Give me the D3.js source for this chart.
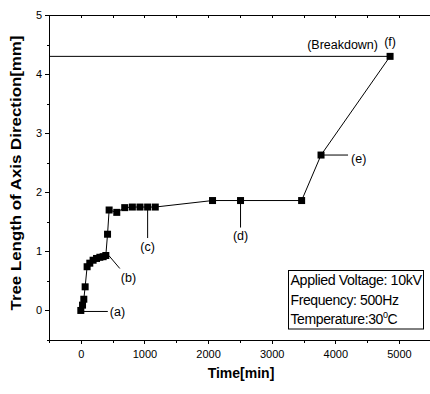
<!DOCTYPE html>
<html>
<head>
<meta charset="utf-8">
<script src="https://cdn.jsdelivr.net/npm/d3@7"></script>
<style>
  body { margin: 0; background: #fff; }
  svg { display: block; font-family: "Liberation Sans", Arial, sans-serif; }
  .axis path, .axis line { stroke: #000; stroke-width: 1; shape-rendering: crispEdges; }
  .axis text { fill: #000; font-size: 11px; font-family: "Liberation Sans", Arial, sans-serif; }
</style>
</head>
<body>
<div id="chart"></div>
<script>
// time [min] vs tree length [mm]
const times  = [0, 27, 47, 68, 99, 141, 193, 247, 299, 351, 393, 420, 445, 565, 690, 810, 930, 1050, 1170, 2070, 2510, 3470, 3775, 4860];
const values = [0, 0.09, 0.19, 0.40, 0.74, 0.80, 0.85, 0.88, 0.90, 0.91, 0.93, 1.29, 1.70, 1.66, 1.74, 1.75, 1.75, 1.75, 1.75, 1.86, 1.86, 1.86, 2.63, 4.30];
const xTicks = [0, 1000, 2000, 3000, 4000, 5000];
const yTicks = [0, 1, 2, 3, 4, 5];
const xMinor = [-500, 500, 1500, 2500, 3500, 4500, 5500];
const yMinor = [-0.5, 0.5, 1.5, 2.5, 3.5, 4.5];
const stageLabels = ['(a)', '(b)', '(c)', '(d)', '(e)', '(f)'];
const stageIndex  = [0, 10, 17, 20, 22, 23];   // which point each label marks
const breakdownLevel = 4.30;
const legendLines = ['Applied Voltage: 10kV', 'Frequency: 500Hz', 'Temperature:30'];

const totalW = 430, totalH = 394;
const svg = d3.select('#chart').append('svg')
  .attr('width', totalW)
  .attr('height', totalH);

const x = d3.scaleLinear().domain([-500, 5500]).range([49, 430.8]);
const y = d3.scaleLinear().domain([-0.5, 5]).range([340, 15]);
const fmt = d3.format('d');

const data = times.map((t, i) => ({t, v: values[i]}));

// axes
function addAxis(gen, tx, ty) {
  return svg.append('g')
    .classed('axis', true)
    .attr('transform', `translate(${tx} ${ty})`)
    .call(gen);
}
addAxis(d3.axisBottom(x).tickValues(xTicks).tickFormat(fmt).tickSize(4).tickSizeOuter(0).tickPadding(6), 0, 340)
  .selectAll('text').attr('dy', '0.71em');
addAxis(d3.axisBottom(x).tickValues(xMinor).tickSize(2.5).tickFormat(''), 0, 340)
  .select('.domain').remove();
addAxis(d3.axisLeft(y).tickValues(yTicks).tickFormat(fmt).tickSize(4).tickSizeOuter(0).tickPadding(3), 49, 0);
addAxis(d3.axisLeft(y).tickValues(yMinor).tickSize(2.5).tickFormat(''), 49, 0)
  .select('.domain').remove();
// top frame with inward ticks
addAxis(d3.axisTop(x).tickValues(xTicks.concat(xMinor)).tickSize(-3).tickSizeOuter(0).tickFormat(''), 0, 15);

// axis titles
svg.append('text')
  .attr('x', 241).attr('y', 377.5)
  .attr('text-anchor', 'middle')
  .style('font-weight', 'bold').style('font-size', '14px')
  .text('Time[min]');
svg.append('text')
  .attr('transform', 'translate(20.5 173) rotate(-90)')
  .attr('text-anchor', 'middle')
  .attr('textLength', 275).attr('lengthAdjust', 'spacingAndGlyphs')
  .style('font-weight', 'bold').style('font-size', '15px')
  .text('Tree Length of Axis Direction[mm]');

// breakdown level line
const last = data[data.length - 1];
svg.append('line')
  .attr('x1', x(-500)).attr('x2', x(last.t))
  .attr('y1', y(breakdownLevel)).attr('y2', y(breakdownLevel))
  .attr('stroke', '#000').attr('stroke-width', 1);

// series
svg.append('path')
  .datum(data)
  .attr('fill', 'none')
  .attr('stroke', '#000')
  .attr('stroke-width', 1)
  .attr('d', d3.line().x(d => x(d.t)).y(d => y(d.v)));

const S = 7;
svg.selectAll('rect.pt')
  .data(data)
  .join('rect')
  .classed('pt', true)
  .attr('x', d => x(d.t) - S/2)
  .attr('y', d => y(d.v) - S/2)
  .attr('width', S).attr('height', S)
  .attr('fill', '#000');

// stage annotations: leader offset (dx1,dy1)->(dx2,dy2), label position relative to point
const leaders = [
  {l: [3, 1, 27, 1],   tx: 29, ty: 5.5},
  {l: [3, 0, 14, 13],  tx: 15, ty: 26},
  {l: [0, 3, 0, 31],   tx: 0, ty: 44, anchor: 'middle'},
  {l: [0, 3, 0, 27],   tx: 0, ty: 39.5, anchor: 'middle'},
  {l: [3, 0, 27, 0],   tx: 30, ty: 8},
  {l: null,            tx: 0, ty: -10, anchor: 'middle'},
];
const ann = svg.append('g');
stageLabels.forEach((lab, i) => {
  const d = data[stageIndex[i]];
  const px = x(d.t), py = y(d.v);
  const o = leaders[i];
  if (o.l) {
    ann.append('line')
      .attr('x1', px + o.l[0]).attr('y1', py + o.l[1])
      .attr('x2', px + o.l[2]).attr('y2', py + o.l[3])
      .attr('stroke', '#000').attr('stroke-width', 1);
  }
  ann.append('text')
    .attr('x', px + o.tx).attr('y', py + o.ty)
    .attr('text-anchor', o.anchor || 'start')
    .style('font-size', '12.5px')
    .text(lab);
});
ann.append('text')
  .attr('x', 378).attr('y', y(breakdownLevel) - 7.5)
  .attr('text-anchor', 'end')
  .style('font-size', '12.5px')
  .text('(Breakdown)');

// legend box
const lg = svg.append('g');
lg.append('rect')
  .attr('x', 288.5).attr('y', 270.5)
  .attr('width', 135).attr('height', 58.5)
  .attr('fill', '#fff').attr('stroke', '#000').attr('stroke-width', 1);
const lgBase = [285, 304.5, 324];
const lgLen = [131, 108, null];
legendLines.forEach((s, i) => {
  const t = lg.append('text')
    .attr('x', 290.5).attr('y', lgBase[i])
    .style('font-size', '14px')
    .style('letter-spacing', '-0.4px')
    .text(s);
  if (lgLen[i]) t.attr('textLength', lgLen[i]).attr('lengthAdjust', 'spacingAndGlyphs');
  if (i === 2) {
    t.append('tspan').attr('dy', -6).style('font-size', '9px').text('0');
    t.append('tspan').attr('dy', 6).text('C');
  }
});
</script>
</body>
</html>
